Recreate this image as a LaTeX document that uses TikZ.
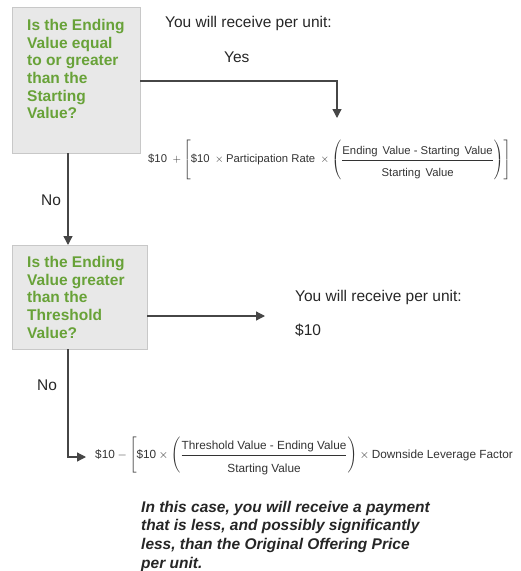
\documentclass[tikz,border=0pt]{standalone}
\usepackage{amsmath}
\usepackage{fontspec}
\setmainfont{Liberation Sans}
\usetikzlibrary{arrows.meta}
\definecolor{qgreen}{RGB}{104,162,56}
\definecolor{boxfill}{RGB}{232,232,232}
\definecolor{boxline}{RGB}{200,200,200}
\definecolor{linegray}{RGB}{70,70,70}
\tikzset{
  qbox/.style={draw=boxline, fill=boxfill, line width=1pt},
  qtext/.style={anchor=north west, inner sep=0pt, align=left, text=qgreen,
    font=\fontsize{15.5}{17.7}\selectfont\bfseries},
  plain/.style={anchor=base west, inner sep=0pt, font=\fontsize{15.5}{17}\selectfont, text=black!85},
  formula/.style={anchor=west, inner sep=0pt, text=black!80},
  flow/.style={draw=linegray, line width=1.3pt, -{Triangle[length=9pt,width=9pt]}},
}
\begin{document}
\begin{tikzpicture}[x=1pt,y=-1pt]
\useasboundingbox (0,0) rectangle (521,571);
% boxes
\draw[qbox] (12,7) rectangle (140,153);
\coordinate (b1s) at (68,153);
\coordinate (b1e) at (140,81);
\node[qtext] (q1) at (27,19) {Is the Ending\\Value equal\\to or greater\\than the\\Starting\\Value?};
\draw[qbox] (12,245) rectangle (147,349);
\coordinate (b2n) at (68,245);
\coordinate (b2s) at (68,349);
\coordinate (b2e) at (147,316);
\node[qtext] (q2) at (27,256) {Is the Ending\\Value greater\\than the\\Threshold\\Value?};
% top texts
\node[plain] (rec1) at (165,27) {You will receive per unit:};
\node[plain] (yes) at (224,62) {Yes};
% formula 1
\node[formula, font=\fontsize{11.3}{13}\selectfont] (f1) at (148,160) {$\displaystyle \text{\$10}\;+\left[\text{\$10}\;\times\text{Participation Rate}\;\times\left(\frac{\rule[-4pt]{0pt}{0pt}\text{Ending\ \,Value - Starting\ \,Value}}{\rule{0pt}{15pt}\text{Starting\ \,Value}}\right)\right]$};
\coordinate (c1) at (337,81);
\coordinate (f1n) at (337,118);
\draw[flow] (b1e) -- (c1) -- (f1n);
% No 1
\node[plain] (no1) at (41,205) {No};
\draw[flow] (b1s) -- (b2n);
% second answer
\coordinate (a2) at (265,316);
\draw[flow] (b2e) -- (a2);
\node[plain] (rec2) at (295,301) {You will receive per unit:};
\node[plain] (ten) at (295,335) {\$10};
% No 2
\node[plain] (no2) at (37,390) {No};
\coordinate (c2) at (68,457);
\coordinate (f2w) at (86,457);
\draw[flow] (b2s) -- (c2) -- (f2w);
\node[formula, font=\fontsize{11.8}{13}\selectfont] (f2) at (95,456) {$\displaystyle \text{\$10}-\left[\text{\$10}\times\left(\frac{\rule[-4pt]{0pt}{0pt}\text{Threshold Value - Ending Value}}{\rule{0pt}{15pt}\text{Starting Value}}\right)\times\text{Downside Leverage Factor}\right.$};
% bottom note
\node[anchor=north west, inner sep=0pt, align=left, font=\fontsize{15.5}{18.7}\selectfont\bfseries\itshape, text=black!85] (note) at (141,500.8) {In this case, you will receive a payment\\that is less, and possibly significantly\\less, than the Original Offering Price\\per unit.};
\end{tikzpicture}
\end{document}
